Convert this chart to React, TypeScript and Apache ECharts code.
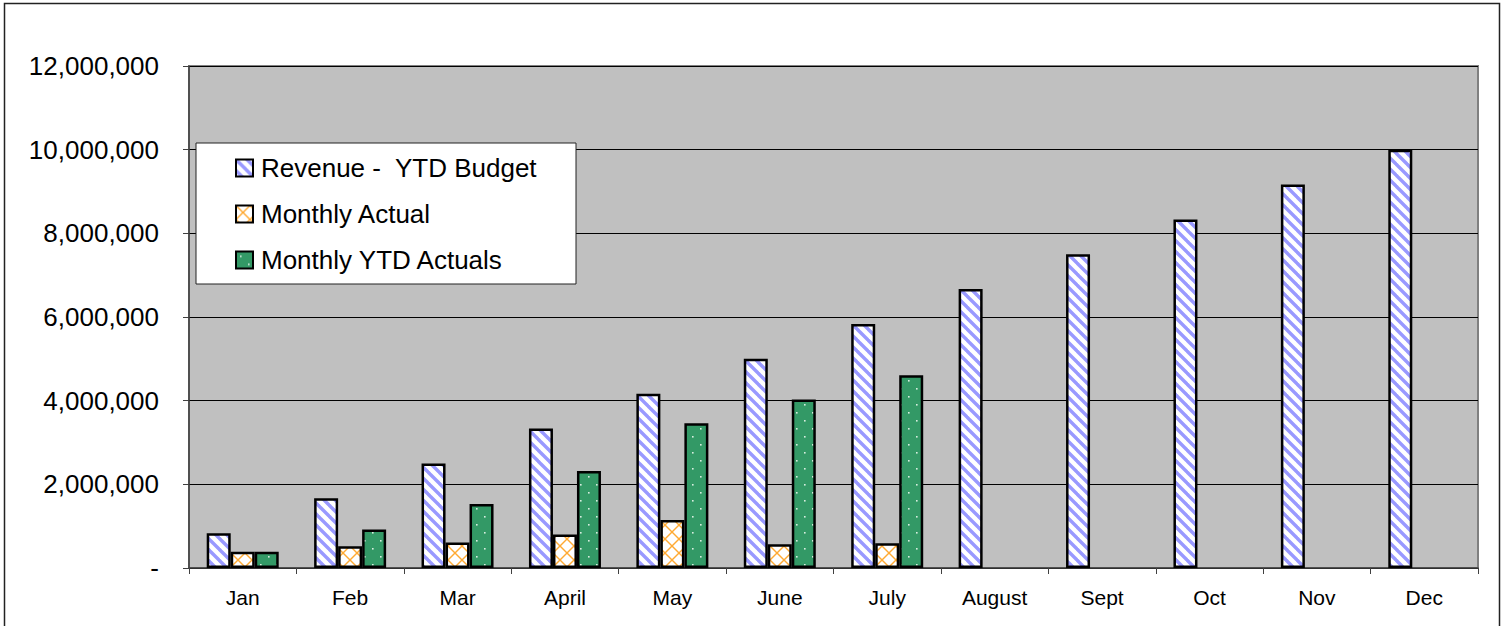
import React, { useEffect, useRef } from "react";
import * as echarts from "echarts";

const months = ["Jan", "Feb", "Mar", "April", "May", "June", "July", "August", "Sept", "Oct", "Nov", "Dec"];
const ytdBudget = [833333, 1666667, 2500000, 3333333, 4166667, 5000000, 5833333, 6666667, 7500000, 8333333, 9166667, 10000000];
const monthlyActual = [390000, 520000, 610000, 800000, 1150000, 570000, 590000];
const monthlyYtdActuals = [390000, 920000, 1530000, 2320000, 3460000, 4030000, 4610000];
const seriesNames = ["Revenue -  YTD Budget", "Monthly Actual", "Monthly YTD Actuals"];
const yMin = 0;
const yMax = 12000000;
const yInterval = 2000000;

const FONT = "'Liberation Sans', Arial, Helvetica, sans-serif";

function makeTile(size: number, draw: (ctx: CanvasRenderingContext2D) => void) {
  const c = document.createElement("canvas");
  c.width = size;
  c.height = size;
  const ctx = c.getContext("2d")!;
  draw(ctx);
  return { image: c, repeat: "repeat", imageWidth: size, imageHeight: size } as any;
}

export default function App() {
  const ref = useRef<HTMLDivElement>(null);
  useEffect(() => {
    document.body.style.margin = "0";
    const chart = echarts.init(ref.current!, null, { renderer: "svg" });

    const stripes = makeTile(11, (ctx) => {
      ctx.fillStyle = "#ffffff";
      ctx.fillRect(0, 0, 11, 11);
      ctx.strokeStyle = "#9999ff";
      ctx.lineWidth = 3.4;
      for (const o of [-11, 0, 11]) {
        ctx.beginPath();
        ctx.moveTo(o - 1, -1);
        ctx.lineTo(o + 12, 12);
        ctx.stroke();
      }
    });
    const lattice = makeTile(14, (ctx) => {
      ctx.fillStyle = "#ffffff";
      ctx.fillRect(0, 0, 14, 14);
      ctx.strokeStyle = "#ffaa33";
      ctx.lineWidth = 1.4;
      for (const o of [-14, 0, 14]) {
        ctx.beginPath();
        ctx.moveTo(o - 1, -1);
        ctx.lineTo(o + 15, 15);
        ctx.stroke();
        ctx.beginPath();
        ctx.moveTo(o + 15, -1);
        ctx.lineTo(o - 1, 15);
        ctx.stroke();
      }
    });
    const dots = makeTile(16, (ctx) => {
      ctx.fillStyle = "#339966";
      ctx.fillRect(0, 0, 16, 16);
      ctx.fillStyle = "#d8eee0";
      ctx.fillRect(4, 4, 1.6, 1.6);
      ctx.fillRect(12, 12, 1.6, 1.6);
    });

    const barStyle = (color: any) => ({ color, borderColor: "#000", borderWidth: 2.5 });

    chart.setOption({
      animation: false,
      textStyle: { fontFamily: FONT },
      grid: {
        left: 189,
        right: 29,
        top: 66,
        bottom: 58,
        show: true,
        backgroundColor: "#c0c0c0",
        borderColor: "#808080",
        borderWidth: 2,
      },
      legend: {
        orient: "vertical",
        left: 235,
        top: 155,
        padding: 0,
        itemGap: 20,
        itemWidth: 17,
        itemHeight: 17,
        icon: "rect",
        z: 10,
        selectedMode: false,
        itemStyle: { borderWidth: 2, borderColor: "#000" },
        textStyle: { fontSize: 26, color: "#000", lineHeight: 26, padding: [0, 0, 0, 3], fontFamily: FONT },
        data: seriesNames,
      },
      graphic: [
        {
          type: "rect",
          z: 6,
          shape: { x: 196, y: 143, width: 380, height: 141 },
          style: { fill: "#ffffff", stroke: "#222", lineWidth: 1 },
        },
        {
          type: "rect",
          z: 100,
          silent: true,
          shape: { x: 4.5, y: 3.5, width: 1495, height: 640 },
          style: { fill: "none", stroke: "#222", lineWidth: 1.5 },
        },
      ],
      xAxis: {
        type: "category",
        data: months,
        axisLine: { show: true, lineStyle: { color: "#404040", width: 1.5 } },
        axisTick: { show: true, length: 6, lineStyle: { color: "#404040" } },
        axisLabel: { color: "#000", fontSize: 21, margin: 19, fontFamily: FONT },
        splitLine: { show: false },
      },
      yAxis: {
        type: "value",
        min: yMin,
        max: yMax,
        interval: yInterval,
        axisLine: { show: true, lineStyle: { color: "#404040", width: 1.5 } },
        axisTick: { show: true, length: 6, lineStyle: { color: "#404040" } },
        axisLabel: {
          color: "#000",
          fontSize: 26,
          margin: 30,
          fontFamily: FONT,
          formatter: (v: number) => (v === 0 ? "-" : v.toLocaleString("en-US")),
        },
        splitLine: { show: true, lineStyle: { color: "#000", width: 1 } },
      },
      series: [
        {
          name: seriesNames[0],
          type: "bar",
          data: ytdBudget,
          barWidth: 24,
          barGap: "0%",
          itemStyle: barStyle(stripes),
        },
        {
          name: seriesNames[1],
          type: "bar",
          data: monthlyActual,
          barWidth: 24,
          barGap: "0%",
          itemStyle: barStyle(lattice),
        },
        {
          name: seriesNames[2],
          type: "bar",
          data: monthlyYtdActuals,
          barWidth: 24,
          barGap: "0%",
          itemStyle: barStyle(dots),
        },
      ],
    });
    return () => chart.dispose();
  }, []);
  return <div ref={ref} style={{ width: 1507, height: 626 }} />;
}
